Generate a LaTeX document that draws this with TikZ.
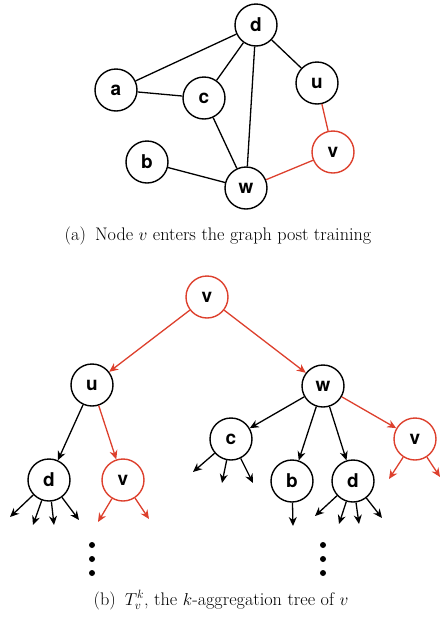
\documentclass[tikz,border=0pt]{standalone}
\usepackage{fontspec}
\usepackage{tikz}
\usetikzlibrary{arrows.meta}
\newfontfamily\lblfont{TeX Gyre Heros}
\definecolor{newred}{RGB}{221,64,45}
\tikzset{
  vtx/.style={circle, draw, line width=1.4pt, minimum size=42pt, inner sep=0pt,
    font=\lblfont\bfseries\fontsize{19}{19}\selectfont},
  newvtx/.style={vtx, draw=newred},
  edge/.style={line width=1.3pt},
  newedge/.style={edge, newred},
  arc/.style={edge, -{Stealth[length=9pt,width=8pt]}},
  newarc/.style={arc, newred},
  capt/.style={font=\fontsize{18.2}{21}\selectfont}
}
\begin{document}
\begin{tikzpicture}[x = 1pt, y = -1pt]
\useasboundingbox (0,0) rectangle (440,619);
% Graph after training
    \node[vtx]    (d) at (256,25)  {d};
    \node[vtx]    (a) at (116,90)  {a};
    \node[vtx]    (c) at (204,98)  {c};
    \node[vtx]    (u) at (317,83)  {u};
    \node[newvtx] (v) at (333,152) {v};
    \node[vtx]    (b) at (147,162) {b};
    \node[vtx]    (w) at (246,188) {w};
    \draw[edge] (a) -- (d);
    \draw[edge] (a) -- (c);
    \draw[edge] (c) -- (d);
    \draw[edge] (c) -- (w);
    \draw[edge] (d) -- (w);
    \draw[edge] (d) -- (u);
    \draw[edge] (b) -- (w);
    \draw[newedge] (u) -- (v);
    \draw[newedge] (v) -- (w);
    \node[capt] (capa) at (218,236) {(a)\enspace Node $v$ enters the graph post training};
% Aggregation tree
    \node[newvtx] (t0) at (207,297) {v};
    \node[vtx]    (tu) at (92,385)  {u};
    \node[vtx]    (tw) at (323,386) {w};
    \node[vtx]    (tud) at (49,480)  {d};
    \node[newvtx] (tuv) at (123,480) {v};
    \node[vtx]    (twc) at (231,439) {c};
    \node[vtx]    (twb) at (292,481) {b};
    \node[vtx]    (twd) at (353,481) {d};
    \node[newvtx] (twv) at (415,439) {v};
    \draw[newarc] (t0) -- (tu);
    \draw[newarc] (t0) -- (tw);
    \draw[arc] (tu) -- (tud);
    \draw[newarc] (tu) -- (tuv);
    \draw[arc] (tw) -- (twc);
    \draw[arc] (tw) -- (twb);
    \draw[arc] (tw) -- (twd);
    \draw[newarc] (tw) -- (twv);
% Open branches
    \foreach \n/\x/\y in {1/10/517, 2/33/525, 3/54/525, 4/79/520}
      {\coordinate (udl\n) at (\x,\y); \draw[arc] (tud) -- (udl\n);}
    \foreach \n/\x/\y in {1/98/522, 2/149/519}
      {\coordinate (uvl\n) at (\x,\y); \draw[newarc] (tuv) -- (uvl\n);}
    \foreach \n/\x/\y in {1/193/472, 2/222/483, 3/253/483}
      {\coordinate (wcl\n) at (\x,\y); \draw[arc] (twc) -- (wcl\n);}
    \coordinate (wbl1) at (293,526);
    \draw[arc] (twb) -- (wbl1);
    \foreach \n/\x/\y in {1/315/516, 2/339/524, 3/359/524, 4/382/518}
      {\coordinate (wdl\n) at (\x,\y); \draw[arc] (twd) -- (wdl\n);}
    \foreach \n/\x/\y in {1/389/479, 2/440/477}
      {\coordinate (wvl\n) at (\x,\y); \draw[newarc] (twv) -- (wvl\n);}
% Vertical dots
    \foreach \y in {545,559,573} {
      \fill (92,\y) circle(3);
      \fill (323,\y) circle(3);
    }
    \node[capt] (captb) at (221,600) {(b)\enspace $T^{k}_{v}$, the $k$-aggregation tree of $v$};
\end{tikzpicture}
\end{document}
